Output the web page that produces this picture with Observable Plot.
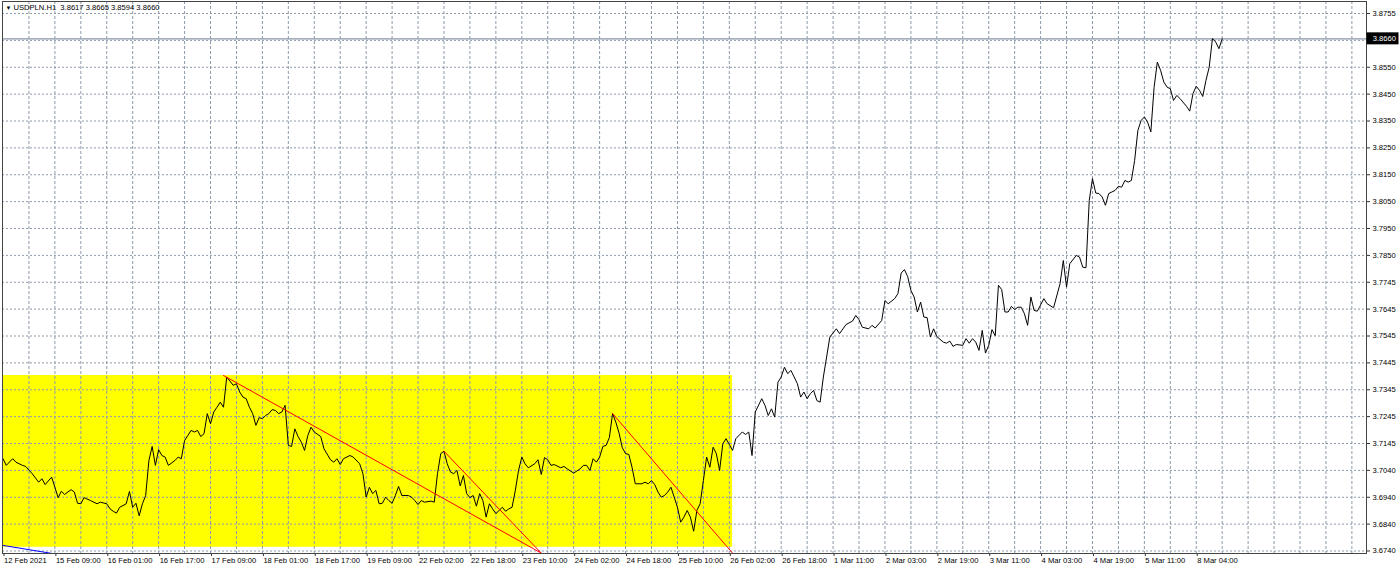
<!DOCTYPE html>
<html>
<head>
<meta charset="utf-8">
<script src="https://cdn.jsdelivr.net/npm/d3@7"></script>
<script src="https://cdn.jsdelivr.net/npm/@observablehq/plot@0.6"></script>
<style>
  html, body { margin: 0; padding: 0; background: #fff; }
  #chart { width: 1400px; height: 570px; }
</style>
</head>
<body>
<div id="chart"></div>
<script>
// ---- Data ----
const symbolTitle = "USDPLN.H1  3.8617 3.8665 3.8594 3.8660";
const lastClose = 3.8660;

// hourly bar index (0 = 12 Feb 2021 17:00)
const bars = [0,1,3,4,6,7,9,11,12,13,15,16,17,18,19,21,22,23,24,25,27,29,30,32,33,34,35,36,38,39,40,41,42,43,44,45,46,47,48,49,50,51,53,54,55,56,57,58,59,60,61,62,63,64,65,66,67,68,69,70,71,72,73,74,75,76,77,78,79,80,81,82,83,84,85,86,87,88,89,90,91,92,93,94,95,96,98,99,101,102,103,104,105,107,108,110,111,112,113,114,115,116,117,118,119,120,121,122,123,125,126,127,128,129,130,132,133,134,135,136,137,138,139,140,141,142,143,144,145,146,147,148,149,150,151,152,153,154,155,156,157,158,159,160,161,162,164,165,166,167,168,169,170,172,173,174,176,178,179,180,181,182,183,184,185,186,187,188,189,190,191,192,193,194,195,197,198,199,200,201,202,203,204,205,206,207,208,209,210,211,212,213,214,215,216,217,218,219,220,221,222,223,225,226,228,229,230,231,232,234,235,236,237,238,239,240,241,242,243,245,246,247,248,249,250,251,252,253,254,255,257,258,260,262,263,264,265,267,268,269,271,272,273,275,276,277,278,279,280,281,282,283,284,285,286,287,288,290,291,292,293,294,296,297,298,299,300,301,302,303,304,305,306,307,308,309,310,311,312,313,314,315,316,317,318,319,321,322,324,326,327,328,329,331,332,333,334,335,336,337,338,339,340,341,343,344,345,346,347,348,349,350,351,352,353,354,355,356,357,358,359,360,361,362,363,365,366,367,368,369,370,371,372,373,374,375,376];

const closes = [3.7086,3.7061,3.7086,3.7073,3.7061,3.7057,3.7030,3.6998,3.7011,3.6989,3.7017,3.6979,3.6940,3.6964,3.6952,3.6970,3.6961,3.6919,3.6917,3.6940,3.6929,3.6917,3.6923,3.6917,3.6898,3.6889,3.6882,3.6904,3.6917,3.6963,3.6904,3.6919,3.6872,3.6917,3.6948,3.7079,3.7132,3.7061,3.7120,3.7098,3.7092,3.7061,3.7079,3.7092,3.7086,3.7154,3.7173,3.7192,3.7186,3.7192,3.7169,3.7180,3.7255,3.7217,3.7261,3.7279,3.7298,3.7279,3.7392,3.7377,3.7361,3.7367,3.7336,3.7317,3.7311,3.7279,3.7255,3.7211,3.7240,3.7236,3.7248,3.7255,3.7270,3.7267,3.7255,3.7261,3.7286,3.7136,3.7132,3.7198,3.7169,3.7148,3.7117,3.7173,3.7204,3.7186,3.7169,3.7123,3.7082,3.7073,3.7086,3.7064,3.7086,3.7098,3.7092,3.7067,3.7030,3.6942,3.6979,3.6955,3.6967,3.6917,3.6919,3.6942,3.6929,3.6919,3.6948,3.6982,3.6948,3.6948,3.6942,3.6929,3.6914,3.6929,3.6923,3.6927,3.6923,3.7030,3.7105,3.7114,3.7067,3.7036,3.7030,3.7042,3.6984,3.7023,3.6955,3.6940,3.6948,3.6908,3.6955,3.6929,3.6867,3.6917,3.6898,3.6880,3.6892,3.6904,3.6889,3.6898,3.6904,3.6967,3.7042,3.7092,3.7067,3.7052,3.7067,3.7082,3.7027,3.7090,3.7082,3.7061,3.7064,3.7052,3.7057,3.7048,3.7032,3.7048,3.7061,3.7061,3.7042,3.7086,3.7073,3.7092,3.7132,3.7136,3.7165,3.7255,3.7223,3.7182,3.7127,3.7105,3.7102,3.7054,3.6992,3.6992,3.6998,3.6992,3.7004,3.6989,3.6961,3.6942,3.6948,3.6961,3.6979,3.6942,3.6904,3.6848,3.6867,3.6892,3.6867,3.6814,3.6892,3.6917,3.7004,3.7092,3.7054,3.7129,3.7105,3.7042,3.7142,3.7161,3.7117,3.7161,3.7186,3.7177,3.7186,3.7098,3.7261,3.7311,3.7286,3.7248,3.7273,3.7242,3.7373,3.7392,3.7429,3.7405,3.7417,3.7367,3.7317,3.7336,3.7311,3.7330,3.7342,3.7304,3.7298,3.7392,3.7467,3.7542,3.7573,3.7555,3.7589,3.7602,3.7623,3.7607,3.7579,3.7573,3.7586,3.7576,3.7604,3.7679,3.7667,3.7686,3.7705,3.7782,3.7795,3.7769,3.7717,3.7692,3.7636,3.7673,3.7617,3.7615,3.7542,3.7573,3.7544,3.7523,3.7519,3.7527,3.7507,3.7514,3.7511,3.7536,3.7519,3.7536,3.7523,3.7492,3.7567,3.7482,3.7511,3.7570,3.7547,3.7736,3.7720,3.7636,3.7636,3.7657,3.7645,3.7654,3.7654,3.7630,3.7586,3.7692,3.7642,3.7639,3.7686,3.7667,3.7652,3.7742,3.7829,3.7729,3.7817,3.7848,3.7842,3.7804,3.7802,3.8054,3.8136,3.8082,3.8080,3.8067,3.8036,3.8080,3.8092,3.8107,3.8104,3.8129,3.8123,3.8129,3.8204,3.8317,3.8354,3.8367,3.8348,3.8311,3.8478,3.8573,3.8542,3.8498,3.8479,3.8473,3.8429,3.8448,3.8436,3.8407,3.8389,3.8455,3.8482,3.8467,3.8444,3.8504,3.8554,3.8661,3.8648,3.8623,3.8660];

// red trend lines (start/end anchors: bar, price)
const trendStartBar = [68, 136, 188];
const trendStartPrice = [3.7398, 3.7114, 3.7255];
const trendEndBar = [166, 166, 225];
const trendEndPrice = [3.6732, 3.6732, 3.6732];

// blue trend line
const blueBars = [0, 15];
const bluePrices = [3.6761, 3.6731];

// yellow rectangle (bar range / price range)
const boxBars = [-3, 225];
const boxPrices = [3.6754, 3.7398];

// axis labels
const xTickLabels = ["12 Feb 2021","15 Feb 09:00","16 Feb 01:00","16 Feb 17:00","17 Feb 09:00","18 Feb 01:00","18 Feb 17:00","19 Feb 09:00","22 Feb 02:00","22 Feb 18:00","23 Feb 10:00","24 Feb 02:00","24 Feb 18:00","25 Feb 10:00","26 Feb 02:00","26 Feb 18:00","1 Mar 11:00","2 Mar 03:00","2 Mar 19:00","3 Mar 11:00","4 Mar 03:00","4 Mar 19:00","5 Mar 11:00","8 Mar 04:00"];
const xLabelEvery = 16;   // bars between labels
const xGridEvery = 8;     // bars between vertical grid lines
const xGridCount = 52;

const yTickLabels = ["3.6740","3.6840","3.6940","3.7040","3.7145","3.7245","3.7345","3.7445","3.7545","3.7645","3.7745","3.7850","3.7950","3.8050","3.8150","3.8250","3.8350","3.8450","3.8550","","3.8755"];
const yBase = 3.6740, yTop = 3.8755;

// ---- derived ----
const data = bars.map((b, i) => ({bar: b, close: closes[i]}));
const yStep = (yTop - yBase) / (yTickLabels.length - 1);
const yTicks = yTickLabels.map((_, i) => yBase + i * yStep);
const yLabelOf = d => yTickLabels[Math.round((d - yBase) / yStep)];
const xTicks = xTickLabels.map((_, i) => i * xLabelEvery);
const xGrid = d3.range(1, xGridCount + 1).map(i => i * xGridEvery);
const trends = trendStartBar.flatMap((b, i) => [
  {id: i, bar: b, price: trendStartPrice[i]},
  {id: i, bar: trendEndBar[i], price: trendEndPrice[i]}
]);
const blue = blueBars.map((b, i) => ({bar: b, price: bluePrices[i]}));
const box = [{x1: boxBars[0], x2: boxBars[1], y1: boxPrices[0], y2: boxPrices[1]}];

const gridColor = "#8d9aab";
const font = "'Liberation Sans', Arial, sans-serif";

const chart = Plot.plot({
  width: 1400,
  height: 570,
  marginTop: 1,
  marginBottom: 17,
  marginLeft: 2,
  marginRight: 34,
  x: {domain: [0, 420], range: [2.5, 1364.35]},
  y: {domain: [yBase, yTop], range: [550.5, 13]},
  style: {fontFamily: font, fontSize: "7.6px", color: "#000", background: "#fff", overflow: "visible"},
  marks: [
    Plot.rect(box, {x1: "x1", x2: "x2", y1: "y1", y2: "y2", fill: "#ffff00", clip: "frame"}),
    Plot.ruleY(yTicks, {stroke: gridColor, strokeDasharray: "2,2", strokeWidth: 1}),
    Plot.ruleX(xGrid, {stroke: gridColor, strokeDasharray: "3,2", strokeWidth: 1}),
    Plot.ruleY([lastClose], {stroke: "#8a96a8", strokeWidth: 1.2}),
    Plot.line(data, {x: "bar", y: "close", stroke: "#000", strokeWidth: 1}),
    Plot.line(trends, {x: "bar", y: "price", z: "id", stroke: "#ff0000", strokeWidth: 1, clip: "frame"}),
    Plot.line(blue, {x: "bar", y: "price", stroke: "#0000ff", strokeWidth: 1, clip: "frame"}),
    Plot.axisY(yTicks, {anchor: "right", tickSize: 3, tickPadding: 3, tickFormat: yLabelOf, stroke: "#333", fill: "#000", fontSize: 7.6}),
    Plot.axisX(xTicks, {anchor: "bottom", tickSize: 3, tickPadding: 1, textAnchor: "start", dx: 1, tickFormat: d => xTickLabels[d / xLabelEvery], stroke: "#333", fill: "#000", fontSize: 7.6}),
    Plot.frame({stroke: "#444", strokeWidth: 1}),
    Plot.text(["\u25BC"], {frameAnchor: "top-left", dx: 3, dy: 4, fontSize: 6, lineAnchor: "top", textAnchor: "start", fill: "#000"}),
    Plot.text([symbolTitle], {frameAnchor: "top-left", dx: 11, dy: 3, fontSize: 7.6, lineAnchor: "top", textAnchor: "start", fill: "#000"})
  ]
});

// price label box on the right axis (positioned by the y scale)
const yScale = chart.scale("y");
const py = yScale.apply(lastClose);
const svgNS = "http://www.w3.org/2000/svg";
const g = document.createElementNS(svgNS, "g");
const r = document.createElementNS(svgNS, "rect");
r.setAttribute("x", "1366.5"); r.setAttribute("y", String(py - 6));
r.setAttribute("width", "32"); r.setAttribute("height", "12");
r.setAttribute("fill", "#000");
const t = document.createElementNS(svgNS, "text");
t.setAttribute("x", "1396"); t.setAttribute("y", String(py + 2.7));
t.setAttribute("text-anchor", "end");
t.setAttribute("fill", "#fff");
t.setAttribute("font-family", font);
t.setAttribute("font-size", "7.6");
t.textContent = d3.format(".4f")(lastClose);
g.appendChild(r); g.appendChild(t);
chart.appendChild(g);

document.getElementById("chart").appendChild(chart);
</script>
</body>
</html>
